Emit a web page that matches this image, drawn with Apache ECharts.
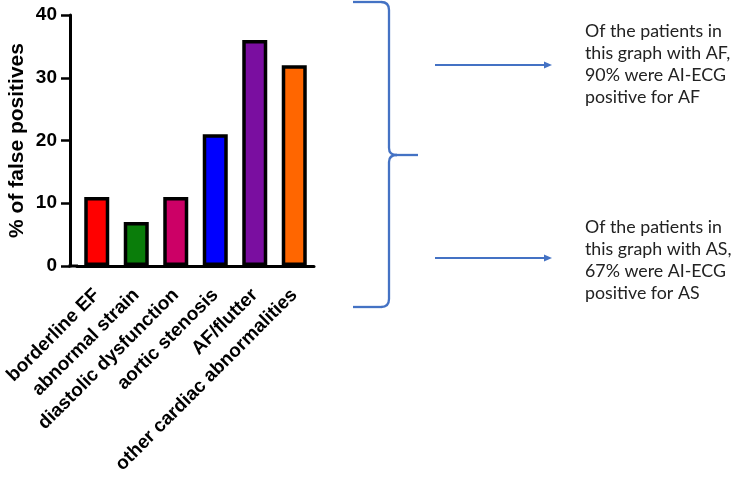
<!DOCTYPE html>
<html>
<head>
<meta charset="utf-8">
<script src="https://cdn.jsdelivr.net/npm/echarts@6/dist/echarts.min.js"></script>
<style>
html,body{margin:0;padding:0;background:#fff;}
#c{width:736px;height:477px;}
</style>
</head>
<body>
<div id="c"></div>
<script>
// ---- data ----
const categories = ['borderline EF', 'abnormal strain', 'diastolic dysfunction', 'aortic stenosis', 'AF/flutter', 'other cardiac abnormalities'];
const falsePositivePct = [11, 7, 11, 21, 36, 32];
const yTicks = [0, 10, 20, 30, 40];
const noteAF = ['Of the patients in', 'this graph with AF,', '90% were AI-ECG', 'positive for AF'];
const noteAS = ['Of the patients in', 'this graph with AS,', '67% were AI-ECG', 'positive for AS'];

// ---- styles ----
const barColors = ['#ff0000', '#0a7d0a', '#cc0066', '#0000ff', '#7a0ea0', '#ff6600'];
const blue = '#4472c4';
const fontBold = "'Liberation Sans', Arial, sans-serif";

const chart = echarts.init(document.getElementById('c'), null, {renderer: 'canvas'});

const axisY = 266;
const braceStyle = {stroke: blue, lineWidth: 2.3, fill: null};
function seg(x1, y1, x2, y2) { return {type: 'line', shape: {x1, y1, x2, y2}, style: braceStyle}; }
function curve(x1, y1, cx, cy, x2, y2) { return {type: 'bezierCurve', shape: {x1, y1, cpx1: cx, cpy1: cy, x2, y2}, style: braceStyle}; }

const option = {
  animation: false,
  backgroundColor: '#ffffff',
  grid: {left: 77, top: 15, width: 237, height: 251, containLabel: false},
  xAxis: {
    type: 'category',
    data: categories,
    axisLine: {lineStyle: {color: '#000', width: 3}},
    axisTick: {alignWithLabel: true, length: 10, lineStyle: {color: '#000', width: 2.5}},
    axisLabel: {
      rotate: 45, margin: 26, color: '#000', fontSize: 19, fontWeight: 'bold',
      fontFamily: fontBold, interval: 0
    }
  },
  yAxis: {
    type: 'value',
    min: yTicks[0], max: yTicks[yTicks.length - 1], interval: 10,
    offset: 7,
    name: '% of false positives',
    nameLocation: 'middle',
    nameGap: 42,
    nameRotate: 90,
    nameTextStyle: {color: '#000', fontSize: 21, fontWeight: 'bold', fontFamily: fontBold},
    axisLine: {show: true, lineStyle: {color: '#000', width: 3}},
    axisTick: {show: true, length: 9, lineStyle: {color: '#000', width: 2.5}},
    splitLine: {show: false},
    axisLabel: {margin: 13, color: '#000', fontSize: 19, fontWeight: 'bold', fontFamily: fontBold}
  },
  series: [{
    type: 'bar',
    data: falsePositivePct,
    barWidth: 25,
    itemStyle: {
      color: p => barColors[p.dataIndex],
      borderColor: '#000',
      borderWidth: 3.5
    }
  }],
  graphic: [
    // extend x axis line to the offset y axis
    {type: 'line', shape: {x1: 68.5, y1: axisY, x2: 78, y2: axisY}, style: {stroke: '#000', lineWidth: 3}},
    // brace
    seg(353, 2, 381, 2),
    curve(381, 2, 389, 2, 389, 10),
    seg(389, 10, 389, 148),
    curve(389, 148, 389, 155, 397, 155),
    seg(397, 155, 418, 155),
    curve(397, 155, 389, 155, 389, 162),
    seg(389, 162, 389, 299),
    curve(389, 299, 389, 307, 381, 307),
    seg(381, 307, 353, 307),
    // arrows
    {type: 'line', shape: {x1: 435, y1: 65, x2: 546, y2: 65}, style: {stroke: blue, lineWidth: 2.2}},
    {type: 'polygon', shape: {points: [[544, 61.5], [552, 65], [544, 68.5]]}, style: {fill: blue}},
    {type: 'line', shape: {x1: 435, y1: 258, x2: 546, y2: 258}, style: {stroke: blue, lineWidth: 2.2}},
    {type: 'polygon', shape: {points: [[544, 254.5], [552, 258], [544, 261.5]]}, style: {fill: blue}},
    // notes
    {type: 'text', left: 585, top: 19.8, style: {text: noteAF.join('\n'), font: "17.8px Lato, 'Open Sans', sans-serif", fill: '#222', lineHeight: 22}},
    {type: 'text', left: 585, top: 216, style: {text: noteAS.join('\n'), font: "17.8px Lato, 'Open Sans', sans-serif", fill: '#222', lineHeight: 22}}
  ]
};
chart.setOption(option);
</script>
</body>
</html>
